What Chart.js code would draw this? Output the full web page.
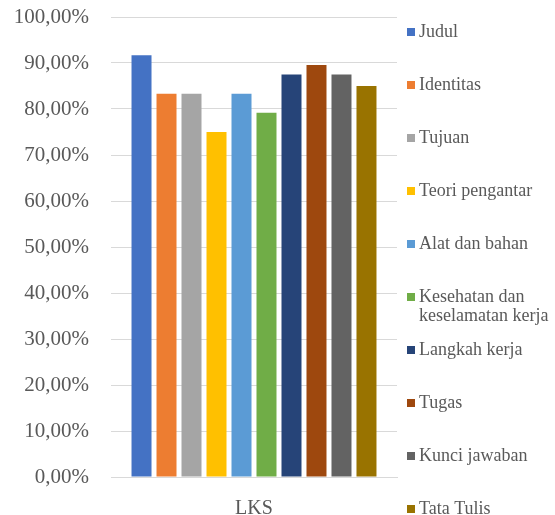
<!DOCTYPE html>
<html>
<head>
<meta charset="utf-8">
<script src="https://cdn.jsdelivr.net/npm/chart.js@4/dist/chart.umd.min.js"></script>
<style>
  html, body { margin: 0; padding: 0; background: #fff; }
  #wrap { width: 555px; height: 515px; }
</style>
</head>
<body>
<div id="wrap"><canvas id="myChart" width="555" height="515"></canvas></div>
<script>
// data
var categories = ['LKS'];
var seriesNames = ['Judul', 'Identitas', 'Tujuan', 'Teori pengantar', 'Alat dan bahan',
    ['Kesehatan dan', 'keselamatan kerja'], 'Langkah kerja', 'Tugas', 'Kunci jawaban', 'Tata Tulis'];
var seriesValues = [91.67, 83.33, 83.33, 75.00, 83.33, 79.17, 87.50, 89.58, 87.50, 85.00];
var seriesColors = ['#4472C4', '#ED7D31', '#A5A5A5', '#FFC000', '#5B9BD5',
    '#70AD47', '#264478', '#9E480E', '#636363', '#997300'];

var fontFamily = '"Liberation Serif", "DejaVu Serif", serif';

var datasets = seriesNames.map(function (name, i) {
    return {
        label: name,
        data: [seriesValues[i]],
        backgroundColor: seriesColors[i],
        borderWidth: 0,
        barPercentage: 0.8,
        categoryPercentage: 0.874
    };
});

// legend drawn by hand on the right so the long label can wrap
var sideLegend = {
    id: 'sideLegend',
    afterDraw: function (chart) {
        var ctx = chart.ctx;
        ctx.save();
        ctx.font = '18px ' + fontFamily;
        ctx.textBaseline = 'middle';
        var y = 32;
        chart.data.datasets.forEach(function (ds) {
            var lines = Array.isArray(ds.label) ? ds.label : [ds.label];
            ctx.fillStyle = ds.backgroundColor;
            ctx.fillRect(407, y - 4, 8, 8);
            ctx.fillStyle = '#595959';
            lines.forEach(function (t, k) {
                ctx.fillText(t, 419, y + k * 19);
            });
            y += 53;
        });
        ctx.restore();
    }
};

var ctx = document.getElementById('myChart').getContext('2d');
var chart = new Chart(ctx, {
    type: 'bar',
    data: {
        labels: categories,
        datasets: datasets
    },
    options: {
        responsive: false,
        animation: false,
        layout: { padding: { left: 0, right: 158, top: 17, bottom: 0 } },
        plugins: {
            legend: { display: false },
            tooltip: { enabled: false }
        },
        scales: {
            x: {
                grid: { display: false },
                border: { color: '#d9d9d9', width: 1 },
                ticks: { color: '#595959', font: { family: fontFamily, size: 20 }, padding: 12 },
                afterFit: function (scale) { scale.height = 38; }
            },
            y: {
                min: 0,
                max: 100,
                ticks: {
                    stepSize: 10,
                    color: '#595959',
                    font: { family: fontFamily, size: 21 },
                    padding: 22,
                    callback: function (v) { return v.toFixed(2).replace('.', ',') + '%'; }
                },
                grid: { color: '#d9d9d9', lineWidth: 1, drawTicks: false },
                border: { display: false },
                afterFit: function (scale) {
                    scale.width = 111;
                    scale.paddingTop = 0;
                    scale.paddingBottom = 0;
                }
            }
        }
    },
    plugins: [sideLegend]
});
</script>
</body>
</html>
